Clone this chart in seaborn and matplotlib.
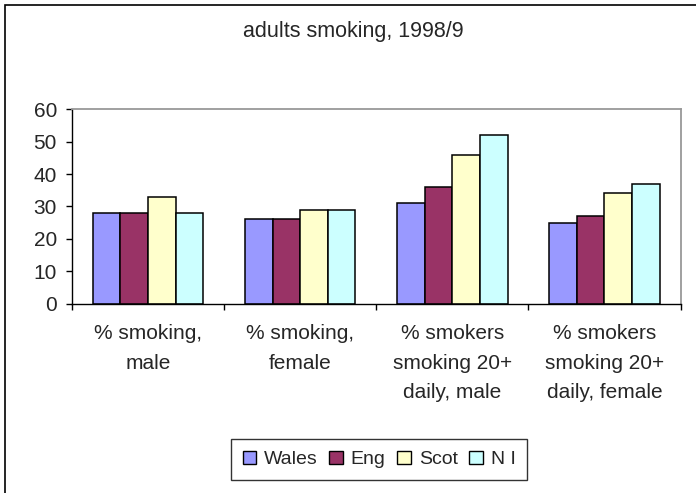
import matplotlib
matplotlib.use("Agg")
import matplotlib.pyplot as plt
from matplotlib.patches import Rectangle, Patch
import seaborn as sns
import pandas as pd

# Survey categories (x axis) and one value list per country
categories = [
    "% smoking,\nmale",
    "% smoking,\nfemale",
    "% smokers\nsmoking 20+\ndaily, male",
    "% smokers\nsmoking 20+\ndaily, female",
]
regions = ["Wales", "Eng", "Scot", "N I"]
wales = [28, 26, 31, 25]
eng = [28, 26, 36, 27]
scot = [33, 29, 46, 34]
ni = [28, 29, 52, 37]
colors = ["#9999FF", "#993366", "#FFFFCC", "#CCFFFF"]
yticks = [0, 10, 20, 30, 40, 50, 60]
title = "adults smoking, 1998/9"

sns.set_theme(style="white")
plt.rcParams["font.family"] = ["Liberation Sans", "DejaVu Sans"]

W, H = 696, 493
fig = plt.figure(figsize=(W / 100, H / 100), dpi=100)
fig.patch.set_facecolor("white")

# plot area in pixel coordinates
left, right, top, bottom = 72, 680.5, 109.3, 303.6
ax = fig.add_axes([left / W, 1 - bottom / H, (right - left) / W, (bottom - top) / H])

rows = []
for reg, vals in zip(regions, [wales, eng, scot, ni]):
    for cat, v in zip(categories, vals):
        rows.append({"category": cat, "region": reg, "value": v})
df = pd.DataFrame(rows)

sns.barplot(
    data=df, x="category", y="value", hue="region",
    order=categories, hue_order=regions,
    palette=dict(zip(regions, colors)), saturation=1,
    width=0.727, gap=0, edgecolor="black", linewidth=1.1,
    legend=False, ax=ax,
)

ax.set_xlim(-0.5, len(categories) - 0.5)
ax.set_ylim(0, 60)
ax.set_yticks(yticks)
ax.set_xlabel("")
ax.set_ylabel("")

# spines: black axes on left/bottom, grey frame on top/right
for side in ["left", "bottom"]:
    ax.spines[side].set_color("black")
    ax.spines[side].set_linewidth(1.0)
for side in ["top", "right"]:
    ax.spines[side].set_visible(True)
    ax.spines[side].set_color("#999999")
    ax.spines[side].set_linewidth(1.3)

ax.tick_params(axis="y", which="major", direction="out", length=4.3, width=1.0,
               color="black", labelsize=15, pad=6.5, left=True)
ax.set_xticks(range(len(categories)))
ax.set_xticklabels(categories, fontsize=15, linespacing=1.7, va="top")
ax.set_xticks([i - 0.5 for i in range(len(categories) + 1)], minor=True)
ax.tick_params(axis="x", which="major", length=0, pad=15)
ax.tick_params(axis="x", which="minor", direction="out", length=4.5, width=1.0,
               color="black", bottom=True)

fig.text(353 / W, 1 - 31 / H, title, ha="center", va="center", fontsize=15.5)

handles = [Patch(facecolor=c, edgecolor="black", linewidth=1.0) for c in colors]
leg = fig.legend(
    handles, regions, loc="upper left",
    bbox_to_anchor=(231 / W, 1 - 439 / H), bbox_transform=fig.transFigure,
    ncol=4, fontsize=14, frameon=True, fancybox=False,
    handlelength=0.7, handleheight=0.7, handletextpad=0.4,
    columnspacing=0.6, borderpad=0.6, borderaxespad=0,
)
leg.get_frame().set_edgecolor("black")
leg.get_frame().set_linewidth(1.0)

# chart border
fig.patches.append(Rectangle((4.5 / W, -0.1), 2, 1 - 4.5 / H + 0.1,
                             transform=fig.transFigure, fill=False,
                             edgecolor="black", linewidth=1.2))

fig.savefig("out.png", dpi=100)
